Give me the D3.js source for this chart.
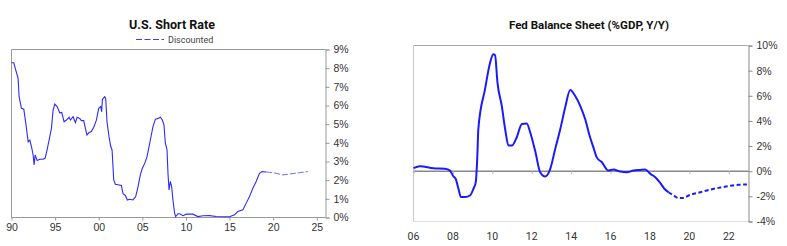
<!DOCTYPE html>
<html lang="en">
<head>
<meta charset="utf-8">
<title>Short Rate and Fed Balance Sheet</title>
<script src="https://d3js.org/d3.v7.min.js"></script>
<style>
  body { margin: 0; background: #fff; }
  svg { display: block; font-family: Roboto, "Liberation Sans", sans-serif; }
  .tick-lbl { font-size: 10.5px; fill: #333; }
  .title { font-size: 12.5px; font-weight: bold; fill: #111; }
</style>
</head>
<body>
<div id="chart"></div>
<script>
// ---- left panel: U.S. short rate (%)
var rateYears = [1990.0, 1990.26, 1990.49, 1990.76, 1990.87, 1991.14, 1991.41, 1991.64, 1991.91, 1992.1,
  1992.29, 1992.48, 1992.59, 1992.71, 1992.94, 1993.24, 1993.62, 1993.85, 1994.08, 1994.39,
  1994.58, 1994.77, 1994.96, 1995.23, 1995.53, 1995.76, 1996.03, 1996.3, 1996.6, 1996.76,
  1997.06, 1997.33, 1997.52, 1997.82, 1998.02, 1998.28, 1998.51, 1998.66, 1998.89, 1999.16,
  1999.47, 1999.73, 2000.0, 2000.23, 2000.34, 2000.42, 2000.69, 2000.8, 2000.95, 2001.18,
  2001.38, 2001.53, 2001.72, 2001.91, 2002.21, 2002.6, 2002.79, 2003.05, 2003.28, 2003.55,
  2003.93, 2004.24, 2004.51, 2004.77, 2005.0, 2005.27, 2005.54, 2005.77, 2006.03, 2006.22,
  2006.49, 2006.8, 2007.07, 2007.29, 2007.48, 2007.64, 2007.83, 2007.94, 2008.06, 2008.21,
  2008.36, 2008.51, 2008.7, 2008.82, 2009.09, 2009.28, 2009.66, 2010.04, 2010.8, 2011.37,
  2011.95, 2012.71, 2013.47, 2014.24, 2015.0, 2015.57, 2015.95, 2016.53, 2016.91, 2017.29,
  2017.67, 2018.05, 2018.43, 2018.74, 2019.2];
var rateValues = [8.29, 8.29, 7.9, 7.45, 6.47, 5.85, 5.8, 5.04, 4.06, 4.15,
  3.8, 3.35, 2.82, 3.35, 3.05, 3.12, 3.12, 3.17, 3.62, 4.33,
  4.78, 5.76, 6.08, 5.94, 5.61, 5.63, 5.13, 5.22, 5.37, 5.22,
  5.4, 5.08, 5.37, 5.31, 5.19, 5.19, 4.69, 4.42, 4.55, 4.6,
  4.87, 5.22, 5.85, 5.94, 5.67, 6.33, 6.47, 6.38, 5.13, 4.33,
  3.8, 3.62, 2.01, 1.78, 1.75, 1.71, 1.27, 1.18, 0.94, 0.98,
  0.94, 1.12, 1.66, 2.28, 2.64, 2.9, 3.26, 3.8, 4.42, 4.87,
  5.26, 5.31, 5.37, 5.22, 4.96, 3.98, 3.62, 2.37, 1.48, 1.93,
  1.66, 0.94, 0.23, 0.05, 0.2, 0.2, 0.1, 0.18, 0.18, 0.05,
  0.09, 0.1, 0.05, 0.04, 0.04, 0.14, 0.32, 0.41, 0.77, 1.12,
  1.57, 1.93, 2.37, 2.46, 2.44];
var discYears = [2019.2, 2019.58, 2020.34, 2021.1, 2021.87, 2023.01, 2023.96];
var discValues = [2.44, 2.42, 2.37, 2.28, 2.33, 2.4, 2.46];
var rateYTicks = [0, 1, 2, 3, 4, 5, 6, 7, 8, 9];
var rateXTicks = [1990, 1995, 2000, 2005, 2010, 2015, 2020, 2025];

// ---- right panel: Fed balance sheet (%GDP, y/y)
var fedYears = [2006.0, 2006.33, 2007.01, 2007.6, 2007.85, 2008.02, 2008.14, 2008.28, 2008.41, 2008.62,
  2008.87, 2009.04, 2009.16, 2009.24, 2009.29, 2009.63, 2009.89, 2010.05, 2010.14, 2010.26,
  2010.48, 2010.65, 2010.82, 2010.99, 2011.24, 2011.5, 2011.75, 2011.92, 2012.17, 2012.43,
  2012.68, 2012.94, 2013.19, 2013.45, 2013.7, 2013.95, 2014.2, 2014.46, 2014.71, 2014.96,
  2015.13, 2015.3, 2015.56, 2015.89, 2016.15, 2016.49, 2016.83, 2017.16, 2017.5, 2017.76,
  2018.01, 2018.27, 2018.52, 2018.78, 2018.94];
var fedValues = [0.24, 0.4, 0.24, 0.2, 0.05, -0.4, -0.6, -1.4, -2.06, -2.06,
  -1.93, -1.4, -0.87, 1.24, 3.36, 6.53, 8.65, 9.3, 9.23, 7.06,
  5.2, 3.36, 2.04, 2.04, 2.7, 3.76, 3.8, 3.1, 1.64, -0.08,
  -0.42, 0.19, 1.77, 3.36, 5.08, 6.46, 6.0, 5.2, 4.15, 2.7,
  1.9, 1.1, 0.71, 0.05, 0.13, -0.03, -0.08, 0.05, 0.1, 0.13,
  -0.2, -0.48, -0.93, -1.48, -1.67];
var fedProjYears = [2018.94, 2019.2, 2019.45, 2019.62, 2020.04, 2020.55, 2021.06, 2021.57, 2022.07, 2022.5, 2022.92];
var fedProjValues = [-1.67, -1.93, -2.14, -2.14, -1.88, -1.67, -1.46, -1.3, -1.16, -1.08, -1.06];
var fedYTicks = [-4, -2, 0, 2, 4, 6, 8, 10];
var fedXTicks = [2006, 2008, 2010, 2012, 2014, 2016, 2018, 2020, 2022];

var W = 787, H = 246;
var svg = d3.select("#chart").append("svg")
  .attr("width", W).attr("height", H);

function pts(xs, ys) { return xs.map(function(d, i) { return [d, ys[i]]; }); }
function yr2(d) { return String(d % 100).padStart(2, "0"); }

// ================= LEFT =================
var x1 = d3.scaleLinear().domain([1990, 2026]).range([11.5, 325.5]);
var y1 = d3.scaleLinear().domain([0, 9]).range([217.5, 49.5]);
var g1 = svg.append("g");

// frame: top + left
g1.append("path")
  .attr("d", "M" + x1(2026) + "," + y1(9) + "H" + x1(1990) + "V" + y1(0))
  .attr("fill", "none").attr("stroke", "#999").attr("stroke-width", 1);

// right axis
var ay1 = g1.append("g").attr("transform", "translate(" + x1(2026) + ",0)")
  .call(d3.axisRight(y1).tickValues(rateYTicks).tickSize(4).tickPadding(4)
    .tickFormat(function(d) { return d + "%"; }));
ay1.select(".domain").attr("stroke", "#999");
ay1.selectAll(".tick line").attr("stroke", "#999");
ay1.selectAll("text").attr("class", "tick-lbl").attr("fill", null);

// bottom axis
var ax1 = g1.append("g").attr("transform", "translate(0," + y1(0) + ")")
  .call(d3.axisBottom(x1).tickValues(rateXTicks).tickSize(3).tickPadding(3).tickFormat(yr2));
ax1.select(".domain").attr("stroke", "#999").attr("d", "M" + x1(1990) + ",0H" + x1(2026));
ax1.selectAll(".tick line").attr("stroke", "#999");
ax1.selectAll("text").attr("class", "tick-lbl").attr("fill", null);

var line1 = d3.line().x(function(d) { return x1(d[0]); }).y(function(d) { return y1(d[1]); });
g1.append("path").datum(pts(rateYears, rateValues))
  .attr("d", line1).attr("fill", "none").attr("stroke", "#2b2bff").attr("stroke-width", 1.1);
g1.append("path").datum(pts(discYears, discValues))
  .attr("d", line1).attr("fill", "none").attr("stroke", "#6b6bff").attr("stroke-width", 1)
  .attr("stroke-dasharray", "6,2");

g1.append("text").attr("class", "title").attr("x", 172).attr("y", 29)
  .attr("text-anchor", "middle").text("U.S. Short Rate");
// legend
g1.append("line").attr("x1", 136).attr("x2", 164).attr("y1", 39.5).attr("y2", 39.5)
  .attr("stroke", "#3a3aff").attr("stroke-width", 1).attr("stroke-dasharray", "6,2.5");
g1.append("text").attr("x", 168).attr("y", 43).attr("font-size", 9).attr("fill", "#444")
  .text("Discounted");

// ================= RIGHT =================
var x2 = d3.scaleLinear().domain([2006, 2023]).range([413.5, 748.5]);
var y2 = d3.scaleLinear().domain([-4, 10]).range([221.5, 45.5]);
var g2 = svg.append("g");

g2.append("line").attr("x1", x2(2006)).attr("x2", x2(2023)).attr("y1", y2(10)).attr("y2", y2(10))
  .attr("stroke", "#aaa");
g2.append("line").attr("x1", x2(2006)).attr("x2", x2(2006)).attr("y1", y2(10)).attr("y2", y2(-4))
  .attr("stroke", "#ccc");
g2.append("line").attr("x1", x2(2006)).attr("x2", x2(2023)).attr("y1", y2(-4)).attr("y2", y2(-4))
  .attr("stroke", "#ddd");

var ay2 = g2.append("g").attr("transform", "translate(" + x2(2023) + ",0)")
  .call(d3.axisRight(y2).tickValues(fedYTicks).tickSize(4).tickPadding(4)
    .tickFormat(function(d) { return d + "%"; }));
ay2.select(".domain").attr("stroke", "#888");
ay2.selectAll(".tick line").attr("stroke", "#888");
ay2.selectAll("text").attr("class", "tick-lbl").attr("fill", null);

// zero line with ticks hanging from it
var ax2 = g2.append("g").attr("transform", "translate(0," + y2(0) + ")")
  .call(d3.axisBottom(x2).tickValues(fedXTicks).tickSize(3).tickFormat(""));
ax2.select(".domain").attr("stroke", "#888").attr("stroke-width", 1.5)
  .attr("d", "M" + x2(2006) + ",0H" + x2(2023));
ax2.selectAll(".tick line").attr("stroke", "#bbb");

// year labels below the frame
g2.selectAll(".xlbl").data(fedXTicks).enter().append("text")
  .attr("class", "tick-lbl").attr("x", function(d) { return x2(d); }).attr("y", 240)
  .attr("text-anchor", "middle").text(yr2);

var line2 = d3.line().curve(d3.curveMonotoneX)
  .x(function(d) { return x2(d[0]); }).y(function(d) { return y2(d[1]); });
g2.append("path").datum(pts(fedYears, fedValues))
  .attr("d", line2).attr("fill", "none").attr("stroke", "#1a1aff").attr("stroke-width", 2);
g2.append("path").datum(pts(fedProjYears, fedProjValues))
  .attr("d", line2).attr("fill", "none").attr("stroke", "#1a1aff").attr("stroke-width", 2)
  .attr("stroke-dasharray", "4,2.5");

g2.append("text").attr("class", "title").attr("x", 589).attr("y", 29)
  .attr("text-anchor", "middle").attr("font-size", 11.5).style("font-size", "11.5px")
  .text("Fed Balance Sheet (%GDP, Y/Y)");
</script>
</body>
</html>
